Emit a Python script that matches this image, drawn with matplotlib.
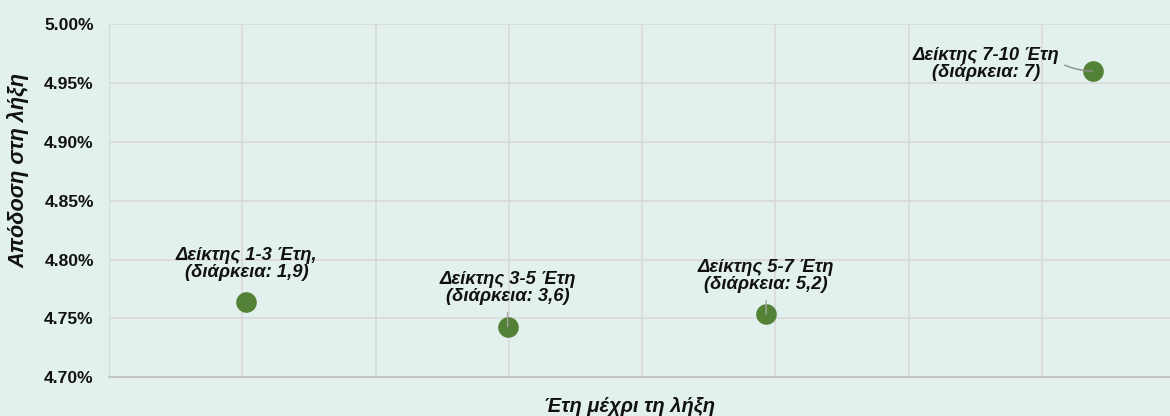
import matplotlib.pyplot as plt
from matplotlib.ticker import MultipleLocator, FuncFormatter

# data (x in chart grid units, y in %)
names = ["Δείκτης 1-3 Έτη,\n(διάρκεια: 1,9)", "Δείκτης 3-5 Έτη\n(διάρκεια: 3,6)",
         "Δείκτης 5-7 Έτη\n(διάρκεια: 5,2)", "Δείκτης 7-10 Έτη\n(διάρκεια: 7)"]
years = [1.03, 2.99, 4.93, 7.38]
yields = [4.764, 4.743, 4.7535, 4.960]
y_ticks = [4.70, 4.75, 4.80, 4.85, 4.90, 4.95, 5.00]

plt.rcParams['font.family'] = ['Liberation Sans', 'DejaVu Sans']
bg = '#e2f1ee'
green = '#538135'

fig = plt.figure(figsize=(11.7, 4.16), dpi=100)
fig.patch.set_facecolor(bg)
ax = fig.add_axes([0.0932, 0.093, 0.9068, 0.8493])
ax.set_facecolor(bg)

ax.scatter(years, yields, s=220, color=green, zorder=3, linewidths=0)

# label offsets in pixels (layout only)
offsets = [(0, 38), (0, 38.5), (0, 38), (-107, 7)]
for name, x, y, off in zip(names, years, yields, offsets):
    ax.annotate(name, (x, y), xytext=off, textcoords='offset pixels',
                ha='center', va='center', fontsize=13.2, fontweight='bold',
                fontstyle='italic', color='#111111', linespacing=1.0, zorder=4)

# leader lines
ax.annotate("", (years[1], yields[1]), xytext=(0, 14), textcoords='offset pixels',
            arrowprops=dict(arrowstyle='-', color='#a6a6a6', lw=1, shrinkA=0, shrinkB=0), zorder=4)
ax.annotate("", (years[2], yields[2]), xytext=(0, 14), textcoords='offset pixels',
            arrowprops=dict(arrowstyle='-', color='#a6a6a6', lw=1, shrinkA=0, shrinkB=0), zorder=4)
ax.annotate("", (years[3], yields[3]), xytext=(-28, 6), textcoords='offset pixels',
            arrowprops=dict(arrowstyle='-', color='#8c8c8c', lw=1, shrinkA=0, shrinkB=0,
                            connectionstyle='arc3,rad=0.1'), zorder=4)

ax.set_xlim(0, 7.96)
ax.set_ylim(4.70, 5.00)
ax.xaxis.set_major_locator(MultipleLocator(1))
ax.set_yticks(y_ticks)
ax.yaxis.set_major_formatter(FuncFormatter(lambda v, p: f"{v:.2f}%"))
ax.tick_params(axis='x', length=0, labelbottom=False)
ax.tick_params(axis='y', length=0, pad=11, labelsize=12.6, labelcolor='#111111')
for lab in ax.get_yticklabels():
    lab.set_fontweight('bold')

ax.grid(True, color='#d9d9d9', lw=1.2, zorder=0)
ax.set_axisbelow(True)
for s in ['top', 'right']:
    ax.spines[s].set_visible(False)
ax.spines['left'].set_color('#d9d9d9')
ax.spines['bottom'].set_color('#bfbfbf')
ax.spines['bottom'].set_linewidth(1.2)

fig.text(630 / 1170, 1 - 406 / 416, "Έτη μέχρι τη λήξη", ha='center', va='center',
         fontsize=14.5, fontweight='bold', fontstyle='italic', color='#111111')
fig.text(18 / 1170, 1 - 170 / 416, "Απόδοση στη λήξη", ha='center', va='center',
         rotation=90, fontsize=15.6, fontweight='bold', fontstyle='italic', color='#111111')

fig.savefig("out.png", dpi=100, facecolor=bg)
